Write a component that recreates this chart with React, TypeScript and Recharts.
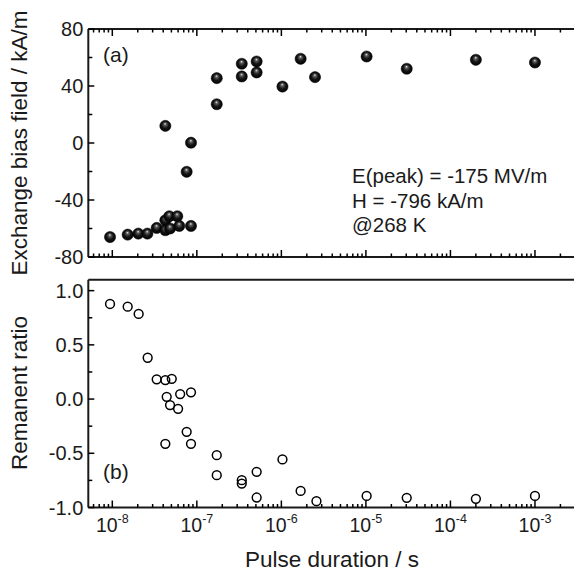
import { ScatterChart, Scatter, XAxis, YAxis } from "recharts";

// pulse duration ticks
const majorTicks = [1e-8, 1e-7, 1e-6, 1e-5, 1e-4, 1e-3];
const tickExponents = ["-8", "-7", "-6", "-5", "-4", "-3"];

// top panel y ticks
const fieldTicks = [-80, -60, -40, -20, 0, 20, 40, 60, 80];
const fieldLabels = [-80, -40, 0, 40, 80];

// bottom panel y ticks
const ratioTicks = [-1, -0.75, -0.5, -0.25, 0, 0.25, 0.5, 0.75, 1];
const ratioLabels = ["-1.0", "-0.5", "0.0", "0.5", "1.0"];

// (a) exchange bias field, kA/m
const fieldDuration = [
  9.4e-9, 1.52e-8, 2.03e-8, 2.6e-8, 3.35e-8, 4.24e-8, 4.24e-8, 4.72e-8, 4.82e-8,
  5.87e-8, 6.2e-8, 8.53e-8, 4.24e-8, 7.58e-8, 8.53e-8, 1.72e-7, 1.72e-7, 3.4e-7,
  3.4e-7, 5.1e-7, 5.1e-7, 1.03e-6, 1.69e-6, 2.5e-6, 1.02e-5, 3.04e-5, 2.0e-4, 1.0e-3,
];
const exchangeBias = [
  -66, -64.3, -63.6, -63.6, -59.6, -61.2, -54.2, -51.4, -60, -51.4, -58.2, -58.2,
  12, -20.2, 0.2, 45.5, 27.2, 55.6, 46.7, 57.2, 49.5, 39.6, 59.1, 46.2, 60.7, 52.1,
  58.4, 56.5,
];

// (b) remanent ratio
const ratioDuration = [
  9.4e-9, 1.52e-8, 2.05e-8, 2.62e-8, 3.35e-8, 4.24e-8, 5.05e-8, 4.4e-8, 4.82e-8,
  6.0e-8, 6.35e-8, 8.53e-8, 7.58e-8, 4.24e-8, 8.53e-8, 1.72e-7, 1.72e-7, 3.4e-7,
  3.4e-7, 5.1e-7, 5.1e-7, 1.03e-6, 1.69e-6, 2.6e-6, 1.02e-5, 3.04e-5, 2.0e-4, 1.0e-3,
];
const remanentRatio = [
  0.877, 0.852, 0.785, 0.381, 0.182, 0.175, 0.187, 0.021, -0.055, -0.09, 0.046,
  0.062, -0.302, -0.413, -0.413, -0.517, -0.702, -0.748, -0.779, -0.671, -0.908,
  -0.557, -0.847, -0.942, -0.893, -0.911, -0.92, -0.893,
];

const fieldData = fieldDuration.map((x, i) => ({ x, y: exchangeBias[i] }));
const ratioData = ratioDuration.map((x, i) => ({ x, y: remanentRatio[i] }));

const xDomain = [5.2e-9, 3e-3];
const xTicks: number[] = [];
majorTicks.concat([1e-9]).forEach((d) => {
  for (let k = 1; k <= 9; k++) {
    const v = k * d;
    if (v >= xDomain[0] && v <= xDomain[1]) xTicks.push(v);
  }
});
xTicks.sort((a, b) => a - b);

const FONT = "'Liberation Sans', Arial, Helvetica, sans-serif";
const W = 600;
const ML = 88.3;
const MR = W - 575.3;

const isDecade = (v: number) =>
  Math.abs(Math.log10(v) - Math.round(Math.log10(v))) < 1e-6;

const makeXTick = (dir: number, labels: boolean) => (props: any) => {
  const { x, y, payload } = props;
  const v = payload.value;
  const major = isDecade(v);
  const len = major ? 7 : 3.5;
  const idx = majorTicks.findIndex((m) => Math.abs(m - v) / m < 1e-6);
  return (
    <g>
      <line x1={x} y1={y} x2={x} y2={y + dir * len} stroke="#000" strokeWidth={1.5} />
      {labels && idx >= 0 && (
        <text x={x} y={y + 24} textAnchor="middle" fontSize={19.5} fontFamily={FONT} fill="#1a1a1a">
          <tspan>10</tspan>
          <tspan dy={-9} fontSize={12.5}>{tickExponents[idx]}</tspan>
        </text>
      )}
    </g>
  );
};

const makeYTick = (labelFor: (v: number) => string | null) => (props: any) => {
  const { x, y, payload } = props;
  const lab = labelFor(payload.value);
  return (
    <g>
      <line x1={x} y1={y} x2={x + (lab ? 6 : 4)} y2={y} stroke="#000" strokeWidth={1.5} />
      {lab && (
        <text x={x - 5} y={y} dy="0.36em" textAnchor="end" fontSize={20} fontFamily={FONT} fill="#1a1a1a">
          {lab}
        </text>
      )}
    </g>
  );
};

const fieldYTick = makeYTick((v) => (fieldLabels.includes(v) ? String(v) : null));
const ratioYTick = makeYTick((v) => {
  const i = [-1, -0.5, 0, 0.5, 1].findIndex((r) => Math.abs(r - v) < 1e-9);
  return i >= 0 ? ratioLabels[i] : null;
});

const Sphere = (props: any) => {
  const { cx, cy } = props;
  if (cx == null || cy == null) return null;
  return <circle cx={cx} cy={cy} r={5.6} fill="url(#sphere)" stroke="#000" strokeWidth={0.5} />;
};

const Ring = (props: any) => {
  const { cx, cy } = props;
  if (cx == null || cy == null) return null;
  return <circle cx={cx} cy={cy} r={4.4} fill="none" stroke="#000" strokeWidth={1.5} />;
};

const axisLine = { stroke: "#1a1a1a", strokeWidth: 2 };

export default function App() {
  return (
    <div
      style={{
        position: "fixed",
        left: 0,
        top: 0,
        width: 574,
        height: 572,
        overflow: "hidden",
        background: "#fff",
      }}
    >
      <div style={{ position: "absolute", left: 0, top: 0 }}>
        <ScatterChart width={W} height={270} margin={{ top: 28, right: MR, bottom: 12, left: ML - 1 }}>
          <defs>
            <radialGradient id="sphere" cx="50%" cy="50%" r="55%" fx="48%" fy="30%">
              <stop offset="0%" stopColor="#e6e6e6" />
              <stop offset="22%" stopColor="#5a5a5a" />
              <stop offset="55%" stopColor="#141414" />
              <stop offset="100%" stopColor="#000" />
            </radialGradient>
          </defs>
          <XAxis
            xAxisId="b"
            dataKey="x"
            type="number"
            scale="log"
            domain={xDomain}
            allowDataOverflow
            ticks={xTicks}
            interval={0}
            height={1}
            tickSize={0}
            tickMargin={0}
            tickLine={false}
            axisLine={axisLine}
            tick={makeXTick(-1, false)}
          />
          <XAxis
            xAxisId="t"
            orientation="top"
            dataKey="x"
            type="number"
            scale="log"
            domain={xDomain}
            allowDataOverflow
            ticks={xTicks}
            interval={0}
            height={1}
            tickSize={0}
            tickMargin={0}
            tickLine={false}
            axisLine={axisLine}
            tick={makeXTick(1, false)}
          />
          <YAxis
            dataKey="y"
            type="number"
            domain={[-80, 80]}
            allowDataOverflow
            ticks={fieldTicks}
            interval={0}
            width={1}
            tickSize={0}
            tickMargin={0}
            tickLine={false}
            axisLine={axisLine}
            tick={fieldYTick}
          />
          <Scatter xAxisId="b" data={fieldData} shape={Sphere} isAnimationActive={false} />
          <Scatter xAxisId="t" data={fieldData} shape={() => null} isAnimationActive={false} />
        </ScatterChart>
      </div>
      <div style={{ position: "absolute", left: 0, top: 270 }}>
        <ScatterChart width={W} height={302} margin={{ top: 8.8, right: MR, bottom: 63.5, left: ML - 1 }}>
          <XAxis
            xAxisId="b"
            dataKey="x"
            type="number"
            scale="log"
            domain={xDomain}
            allowDataOverflow
            ticks={xTicks}
            interval={0}
            height={1}
            tickSize={0}
            tickMargin={0}
            tickLine={false}
            axisLine={axisLine}
            tick={makeXTick(-1, true)}
          />
          <XAxis
            xAxisId="t"
            orientation="top"
            dataKey="x"
            type="number"
            scale="log"
            domain={xDomain}
            allowDataOverflow
            height={1}
            tick={false}
            tickLine={false}
            axisLine={axisLine}
          />
          <YAxis
            dataKey="y"
            type="number"
            domain={[-1, 1.1]}
            allowDataOverflow
            ticks={ratioTicks}
            interval={0}
            width={1}
            tickSize={0}
            tickMargin={0}
            tickLine={false}
            axisLine={axisLine}
            tick={ratioYTick}
          />
          <Scatter xAxisId="b" data={ratioData} shape={Ring} isAnimationActive={false} />
          <Scatter xAxisId="t" data={ratioData} shape={() => null} isAnimationActive={false} />
        </ScatterChart>
      </div>
      <svg
        width={574}
        height={572}
        style={{ position: "absolute", left: 0, top: 0, pointerEvents: "none" }}
        fontFamily={FONT}
        fill="#1a1a1a"
      >
        <text x={103} y={62} fontSize={21}>(a)</text>
        <text x={103} y={479} fontSize={21}>(b)</text>
        <text x={352} y={183} fontSize={20.5}>E(peak) = -175 MV/m</text>
        <text x={352} y={207.5} fontSize={20.5}>H = -796 kA/m</text>
        <text x={352} y={232} fontSize={20.5}>@268 K</text>
        <text x={27} y={143} fontSize={22.5} textAnchor="middle" transform="rotate(-90 27 143)">
          Exchange bias field / kA/m
        </text>
        <text x={27} y={393} fontSize={22.5} textAnchor="middle" transform="rotate(-90 27 393)">
          Remanent ratio
        </text>
        <text x={332} y={566.5} fontSize={22.5} textAnchor="middle">
          Pulse duration / s
        </text>
      </svg>
    </div>
  );
}
